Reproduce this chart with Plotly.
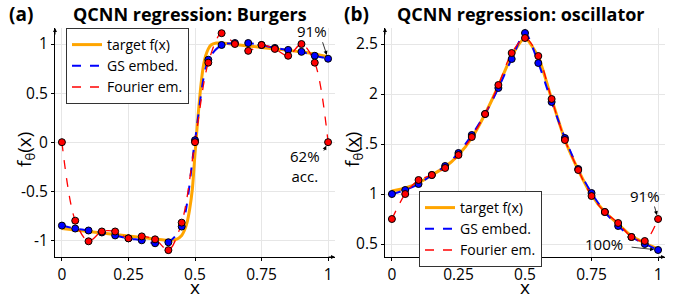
import plotly.graph_objects as go

# ---------------- data: Burgers ----------------
x_pts = [0, 0.05, 0.1, 0.15, 0.2, 0.25, 0.3, 0.35, 0.4, 0.45, 0.5,
         0.55, 0.6, 0.65, 0.7, 0.75, 0.8, 0.85, 0.9, 0.95, 1.0]

burg_target_x = [0, 0.1, 0.2, 0.3, 0.4, 0.43, 0.45, 0.46, 0.47, 0.48, 0.49, 0.5,
                 0.51, 0.52, 0.53, 0.54, 0.55, 0.56, 0.58, 0.6, 0.7, 0.8, 0.9, 1.0]
burg_target_y = [-0.88, -0.91, -0.94, -0.97, -1.0, -0.99, -0.95, -0.9, -0.82, -0.68, -0.48, -0.12,
                 0.22, 0.52, 0.75, 0.88, 0.95, 0.99, 1.01, 1.01, 0.98, 0.95, 0.92, 0.87]
burg_gs = [-0.85, -0.88, -0.90, -0.92, -0.95, -0.98, -1.00, -1.03, -1.02, -0.86, 0.02,
           0.84, 0.99, 1.01, 1.01, 0.99, 0.96, 0.94, 0.92, 0.88, 0.85]
burg_four = [0.0, -0.80, -1.01, -0.91, -0.91, -0.98, -0.96, -0.99, -1.10, -0.82, 0.0,
             0.81, 1.11, 1.00, 0.93, 0.99, 0.95, 0.88, 1.00, 0.81, 0.0]

# ---------------- data: oscillator ----------------
osc_target = [1.03, 1.06, 1.11, 1.19, 1.27, 1.39, 1.56, 1.80, 2.08, 2.38, 2.56,
              2.37, 1.95, 1.54, 1.24, 0.99, 0.82, 0.70, 0.58, 0.51, 0.45]
osc_gs = [1.00, 1.04, 1.10, 1.19, 1.28, 1.41, 1.59, 1.80, 2.06, 2.35, 2.61,
          2.31, 1.92, 1.56, 1.25, 1.01, 0.82, 0.68, 0.57, 0.50, 0.44]
osc_four = [0.75, 1.00, 1.14, 1.19, 1.26, 1.39, 1.57, 1.80, 2.09, 2.41, 2.56,
            2.38, 1.95, 1.54, 1.24, 0.98, 0.82, 0.71, 0.57, 0.53, 0.75]

x_ticks = [0, 0.25, 0.5, 0.75, 1]
x_ticklabels = ["0", "0.25", "0.5", "0.75", "1"]
a_yticks = [-1, -0.5, 0, 0.5, 1]
a_yticklabels = ["-1", "-0.5", "0", "0.5", "1"]
b_yticks = [0.5, 1, 1.5, 2, 2.5]
b_yticklabels = ["0.5", "1", "1.5", "2", "2.5"]

FONT = "Open Sans"
ORANGE = "#FFA500"
BLUE = "#0000FF"
RED = "#FF0000"

W, H = 696, 299
def px(x):
    return x / W
def py(y):
    return 1 - y / H

fig = go.Figure()

def add_panel(xa, ya, legend, tx, ty, gs, four):
    fig.add_trace(go.Scatter(x=tx, y=ty, mode="lines", line=dict(color=ORANGE, width=3, shape="spline", smoothing=0.6),
                             name="target f(x)", xaxis=xa, yaxis=ya, legend=legend))
    fig.add_trace(go.Scatter(x=x_pts, y=gs, mode="lines", line=dict(color=BLUE, width=2, dash="dash", shape="spline", smoothing=0.8),
                             name="GS embed.", xaxis=xa, yaxis=ya, legend=legend))
    fig.add_trace(go.Scatter(x=x_pts, y=four, mode="lines", line=dict(color=RED, width=1.3, dash="dash", shape="spline", smoothing=0.9),
                             name="Fourier em.", xaxis=xa, yaxis=ya, legend=legend))
    fig.add_trace(go.Scatter(x=x_pts, y=gs, mode="markers", marker=dict(color=BLUE, size=7, line=dict(color="black", width=1)),
                             showlegend=False, xaxis=xa, yaxis=ya))
    fig.add_trace(go.Scatter(x=x_pts, y=four, mode="markers", marker=dict(color=RED, size=7, line=dict(color="black", width=1)),
                             showlegend=False, xaxis=xa, yaxis=ya))

add_panel("x", "y", "legend", burg_target_x, burg_target_y, burg_gs, burg_four)
add_panel("x2", "y2", "legend2", x_pts, osc_target, osc_gs, osc_four)

ax_common = dict(showline=True, linecolor="black", linewidth=1, showgrid=True, gridcolor="#e6e6e6",
                 gridwidth=1, zeroline=False, ticks="outside", ticklen=3, tickcolor="black",
                 tickfont=dict(family=FONT, size=15.5, color="black"))

XR = [-0.026, 1.026]
YRA = [-1.17, 1.163]
YRB = [0.37, 2.66]
fig.update_layout(
    width=W, height=H, margin=dict(l=0, r=0, t=0, b=0),
    paper_bgcolor="white", plot_bgcolor="white",
    font=dict(family=FONT, color="black"),
    xaxis=dict(domain=[px(55), px(335)], range=XR, tickvals=x_ticks, ticktext=x_ticklabels, anchor="y", **ax_common),
    yaxis=dict(domain=[py(257), py(28)], range=YRA, tickvals=a_yticks, ticktext=a_yticklabels, anchor="x", **ax_common),
    xaxis2=dict(domain=[px(385), px(665)], range=XR, tickvals=x_ticks, ticktext=x_ticklabels, anchor="y2", **ax_common),
    yaxis2=dict(domain=[py(257), py(28)], range=YRB, tickvals=b_yticks, ticktext=b_yticklabels, anchor="x2", **ax_common),
    legend=dict(x=px(66), y=py(28), xanchor="left", yanchor="top", bgcolor="white", bordercolor="#333333",
                borderwidth=1, font=dict(family=FONT, size=14), tracegroupgap=0, itemwidth=30),
    legend2=dict(x=px(419), y=py(191), xanchor="left", yanchor="top", bgcolor="white", bordercolor="#333333",
                 borderwidth=1, font=dict(family=FONT, size=14), tracegroupgap=0, itemwidth=30),
)

def ptext(x, y, text, size, bold=False, angle=0, xanchor="center"):
    fig.add_annotation(x=px(x), y=py(y), xref="paper", yref="paper", text=f"<b>{text}</b>" if bold else text,
                       showarrow=False, font=dict(family=FONT, size=size, color="black"), textangle=angle,
                       xanchor=xanchor, yanchor="middle")

ptext(7, 14, "(a)", 19, bold=True, xanchor="left")
ptext(190, 14, "QCNN regression: Burgers", 18, bold=True)
ptext(342, 14, "(b)", 19, bold=True, xanchor="left")
ptext(521, 14, "QCNN regression: oscillator", 18, bold=True)
ptext(195, 287, "x", 19)
ptext(525, 287, "x", 19)
ptext(25, 150, "f<sub>θ</sub>(x)", 19, angle=-90)
ptext(353, 150, "f<sub>θ</sub>(x)", 19, angle=-90)

# percentage labels
ptext(312, 31, "91%", 15)
ptext(305, 166, "62%<br>acc.", 15)
ptext(645, 196, "91%", 15)
ptext(604, 244, "100%", 15)

def arrow(xa, ya, x, y, ax, ay):
    fig.add_annotation(x=x, y=y, xref=xa, yref=ya, ax=ax, ay=ay, axref="pixel", ayref="pixel", text="",
                       showarrow=True, arrowhead=2, arrowsize=1, arrowwidth=0.8, arrowcolor="black", standoff=4)

arrow("x", "y", 1, burg_gs[-1], -6, -18)
arrow("x", "y", 1, burg_four[-1], -5, 10)
arrow("x2", "y2", 1, osc_four[-1], -4, -14)
arrow("x2", "y2", 1, osc_gs[-1], -28, -3)

# axis-end arrows
for xa, ya, yr in [("x", "y", YRA), ("x2", "y2", YRB)]:
    fig.add_annotation(x=XR[0], y=yr[1], xref=xa, yref=ya, ax=0, ay=8, axref="pixel", ayref="pixel", text="",
                       showarrow=True, arrowhead=2, arrowsize=0.8, arrowwidth=1, arrowcolor="black")
    fig.add_annotation(x=XR[1], y=yr[0], xref=xa, yref=ya, ax=-8, ay=0, axref="pixel", ayref="pixel", text="",
                       showarrow=True, arrowhead=2, arrowsize=0.8, arrowwidth=1, arrowcolor="black")

fig.write_html("out.html", config={"displayModeBar": False},
               post_script="document.body.style.margin='0px';document.body.style.overflow='hidden';")
